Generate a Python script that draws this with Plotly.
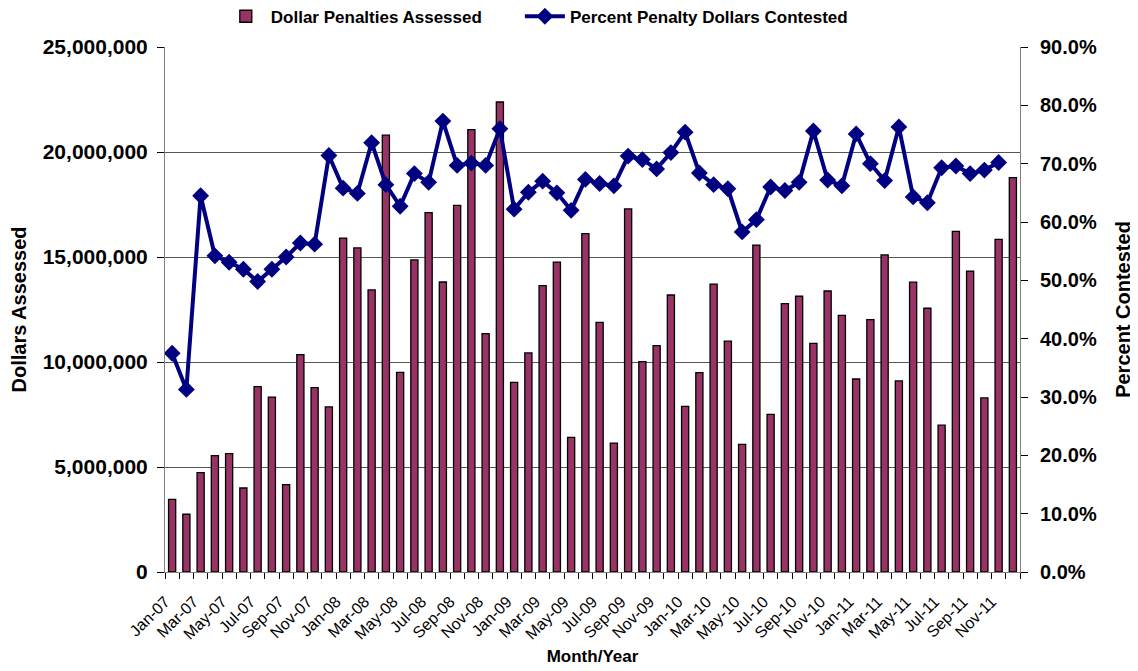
import plotly.graph_objects as go

months = [
    "Jan-07", "Feb-07", "Mar-07", "Apr-07", "May-07", "Jun-07", "Jul-07", "Aug-07", "Sep-07", "Oct-07", "Nov-07", "Dec-07",
    "Jan-08", "Feb-08", "Mar-08", "Apr-08", "May-08", "Jun-08", "Jul-08", "Aug-08", "Sep-08", "Oct-08", "Nov-08", "Dec-08",
    "Jan-09", "Feb-09", "Mar-09", "Apr-09", "May-09", "Jun-09", "Jul-09", "Aug-09", "Sep-09", "Oct-09", "Nov-09", "Dec-09",
    "Jan-10", "Feb-10", "Mar-10", "Apr-10", "May-10", "Jun-10", "Jul-10", "Aug-10", "Sep-10", "Oct-10", "Nov-10", "Dec-10",
    "Jan-11", "Feb-11", "Mar-11", "Apr-11", "May-11", "Jun-11", "Jul-11", "Aug-11", "Sep-11", "Oct-11", "Nov-11", "Dec-11",
]

dollars_assessed = [
    3460000, 2750000, 4730000, 5540000, 5640000, 4000000, 8830000, 8330000, 4160000, 10350000, 8780000, 7860000,
    15900000, 15430000, 13430000, 20800000, 9510000, 14860000, 17110000, 13810000, 17460000, 21070000, 11350000, 22380000,
    9030000, 10430000, 13640000, 14760000, 6410000, 16110000, 11890000, 6140000, 17290000, 10020000, 10780000, 13190000,
    7890000, 9490000, 13710000, 10990000, 6080000, 15570000, 7510000, 12780000, 13130000, 10890000, 13380000, 12220000,
    9190000, 12020000, 15100000, 9100000, 13800000, 12560000, 6990000, 16220000, 14330000, 8290000, 15840000, 18780000,
]

percent_contested = [
    37.5, 31.3, 64.5, 54.2, 53.1, 51.9, 49.8, 51.9, 54.0, 56.4, 56.2, 71.4,
    65.8, 64.9, 73.6, 66.4, 62.7, 68.3, 66.8, 77.3, 69.7, 70.1, 69.7, 76.0,
    62.2, 65.1, 67.0, 65.0, 62.0, 67.3, 66.6, 66.2, 71.3, 70.7, 69.1, 71.9,
    75.4, 68.4, 66.4, 65.7, 58.3, 60.4, 66.0, 65.4, 66.8, 75.6, 67.2, 66.2,
    75.1, 70.0, 67.1, 76.3, 64.3, 63.3, 69.3, 69.6, 68.3, 68.9, 70.2, None,
]

x_tick_text = [m if i % 2 == 0 else "" for i, m in enumerate(months)]
left_ticks = [0, 5000000, 10000000, 15000000, 20000000, 25000000]
left_grid = [5000000, 10000000, 15000000, 20000000]
right_ticks = [0, 10, 20, 30, 40, 50, 60, 70, 80, 90]
right_tick_text = ["0.0%", "10.0%", "20.0%", "30.0%", "40.0%", "50.0%", "60.0%", "70.0%", "80.0%", "90.0%"]

FONT = "Liberation Sans, Arial, sans-serif"
NB = "\u00a0"

fig = go.Figure()
fig.add_trace(go.Bar(
    x=months, y=dollars_assessed, name="Dollar Penalties Assessed" + NB * 7,
    marker=dict(color="#993366", line=dict(color="#000000", width=1.3)),
    yaxis="y",
))
fig.add_trace(go.Scatter(
    x=months, y=percent_contested, name="Percent Penalty Dollars Contested",
    mode="lines+markers",
    line=dict(color="#000080", width=4),
    marker=dict(symbol="diamond", size=13, color="#000080"),
    yaxis="y2", connectgaps=False,
))

fig.update_layout(
    width=1138, height=671,
    margin=dict(l=157, r=126, t=39, b=107),
    paper_bgcolor="white", plot_bgcolor="white",
    font=dict(family=FONT, color="black"),
    bargap=0.5,
    showlegend=True,
    legend=dict(
        orientation="h", xref="container", yref="container",
        x=0.187, xanchor="left", y=0.987, yanchor="middle",
        font=dict(size=17, weight="bold", family=FONT),
        bgcolor="rgba(0,0,0,0)", itemwidth=40, tracegroupgap=0,
    ),
    xaxis=dict(
        type="category", tickmode="array", tickvals=months, ticktext=x_tick_text,
        tickson="boundaries", ticks="outside", ticklen=6, tickcolor="#000000",
        tickangle=-45, tickfont=dict(size=16, family=FONT),
        ticklabelshift=-7, ticklabelstandoff=13,
        showline=True, linecolor="#808080", linewidth=1, showgrid=False,
        title=dict(text="Month/Year", font=dict(size=17, weight="bold", family=FONT), standoff=8),
        range=[-0.5, 59.5], automargin=False,
    ),
    yaxis=dict(
        range=[0, 25000000], tickmode="array", tickvals=left_ticks,
        tickformat=",d", ticks="outside", ticklen=7, tickcolor="#000000",
        tickfont=dict(size=21, weight="bold", family=FONT), ticklabelstandoff=5,
        showline=True, linecolor="#808080", linewidth=1,
        showgrid=False, zeroline=False,
        minor=dict(tickmode="array", tickvals=left_grid, showgrid=True,
                   gridcolor="#555555", gridwidth=1, ticks=""),
        title=dict(text="Dollars Assessed", font=dict(size=20, weight="bold", family=FONT), standoff=24),
        automargin=False,
    ),
    yaxis2=dict(
        overlaying="y", side="right", range=[0, 90], tickmode="array",
        tickvals=right_ticks, ticktext=right_tick_text,
        ticks="outside", ticklen=7, tickcolor="#000000",
        tickfont=dict(size=20, weight="bold", family=FONT), ticklabelstandoff=8,
        showline=True, linecolor="#808080", linewidth=1,
        showgrid=False, zeroline=False,
        title=dict(text="Percent Contested", font=dict(size=20, weight="bold", family=FONT), standoff=20),
        automargin=False,
    ),
)

fig.write_html("out.html")
